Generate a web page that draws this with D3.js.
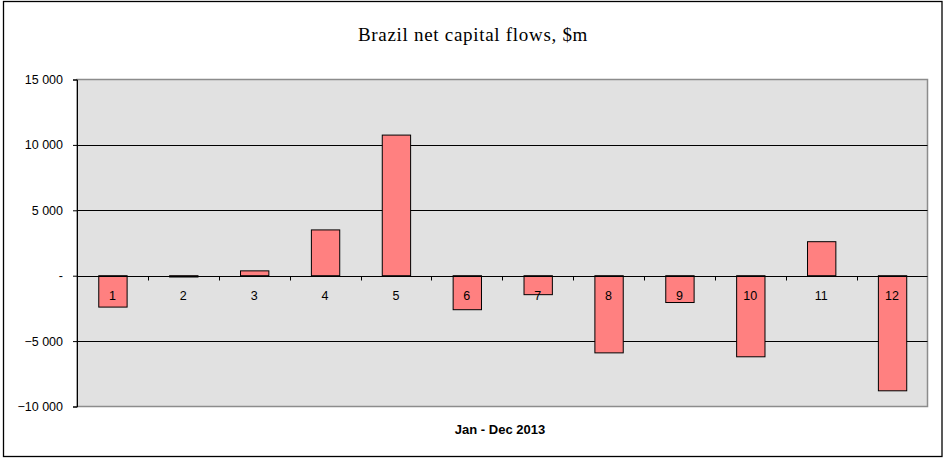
<!DOCTYPE html>
<html>
<head>
<meta charset="utf-8">
<script src="https://cdn.jsdelivr.net/npm/d3@7"></script>
<style>
  html, body { margin: 0; padding: 0; background: #fff; }
  svg { display: block; }
</style>
</head>
<body>
<svg id="chart" width="945" height="460"></svg>
<script>
const categories = ["1","2","3","4","5","6","7","8","9","10","11","12"];
const values = [-2400, -100, 370, 3500, 10750, -2600, -1450, -5900, -2050, -6200, 2600, -8800];
const yTicks = [-10000, -5000, 0, 5000, 10000, 15000];
const title = "Brazil net capital flows, $m";
const xTitle = "Jan - Dec 2013";

const svg = d3.select("#chart");
const m = {left: 77, right: 927.5, top: 79.5, bottom: 406.5};

// outer frame
svg.append("rect").attr("x", 3.5).attr("y", 1.5).attr("width", 938.5).attr("height", 455)
  .attr("fill", "#fff").attr("stroke", "#000").attr("stroke-width", 1.3);

const x = d3.scaleBand().domain(categories).range([m.left, m.right]).paddingInner(0.6).paddingOuter(0.3);
const xb = d3.scaleBand().domain(categories).range([m.left, m.right]);
const y = d3.scaleLinear().domain([-10000, 15000]).range([m.bottom, m.top]);

// plot area
svg.append("rect").attr("x", m.left).attr("y", m.top)
  .attr("width", m.right - m.left).attr("height", m.bottom - m.top)
  .attr("fill", "#e1e1e1").attr("stroke", "#8c8c8c").attr("stroke-width", 1.5);

// gridlines
svg.append("g").selectAll("line").data(yTicks.filter(d => d !== 15000 && d !== -10000 && d !== 0))
  .join("line")
  .attr("x1", m.left).attr("x2", m.right)
  .attr("y1", d => Math.round(y(d)) + 0.5).attr("y2", d => Math.round(y(d)) + 0.5)
  .attr("stroke", "#000").attr("stroke-width", 1);

// y axis
const fmt = d => d === 0 ? "-" : d3.format(",")(d).replace(/,/g, " ");
const yAxis = svg.append("g").attr("transform", `translate(${m.left},0)`)
  .call(d3.axisLeft(y).tickValues(yTicks).tickSize(4).tickPadding(10).tickFormat(fmt));
yAxis.select(".domain").attr("stroke", "#000");
yAxis.selectAll("line").attr("stroke", "#000");
yAxis.selectAll("text").attr("font-family", "Arial, 'Liberation Sans', sans-serif")
  .attr("font-size", "12.5px").attr("fill", "#000");

// bars
svg.append("g").selectAll("rect").data(values).join("rect")
  .attr("x", (d, i) => x(categories[i]) + 0.5)
  .attr("width", x.bandwidth())
  .attr("y", d => y(Math.max(0, d)))
  .attr("height", d => Math.max(1, Math.abs(y(d) - y(0))))
  .attr("fill", "#ff8080").attr("stroke", "#000").attr("stroke-width", 1);

// zero axis with ticks between categories
const z = Math.round(y(0)) + 0.5;
svg.append("line").attr("x1", m.left).attr("x2", m.right).attr("y1", z).attr("y2", z)
  .attr("stroke", "#000").attr("stroke-width", 1);
svg.append("g").selectAll("line").data(categories.slice(1)).join("line")
  .attr("x1", d => Math.round(xb(d)) + 0.5).attr("x2", d => Math.round(xb(d)) + 0.5)
  .attr("y1", z).attr("y2", z + 4).attr("stroke", "#000");

// category labels
svg.append("g").selectAll("text").data(categories).join("text")
  .attr("x", d => xb(d) + xb.bandwidth() / 2)
  .attr("y", z + 23.5)
  .attr("text-anchor", "middle")
  .attr("font-family", "Arial, 'Liberation Sans', sans-serif")
  .attr("font-size", "12.5px").attr("fill", "#000")
  .text(d => d);

// title
svg.append("text").attr("x", 473).attr("y", 41).attr("text-anchor", "middle")
  .attr("font-family", "Georgia, 'Liberation Serif', 'DejaVu Serif', serif")
  .attr("font-size", "19px").attr("letter-spacing", "0.7px").attr("fill", "#000").text(title);

// x title
svg.append("text").attr("x", 500).attr("y", 434).attr("text-anchor", "middle")
  .attr("font-family", "Arial, 'Liberation Sans', sans-serif")
  .attr("font-size", "13px").attr("font-weight", "bold").attr("fill", "#000").text(xTitle);
</script>
</body>
</html>
